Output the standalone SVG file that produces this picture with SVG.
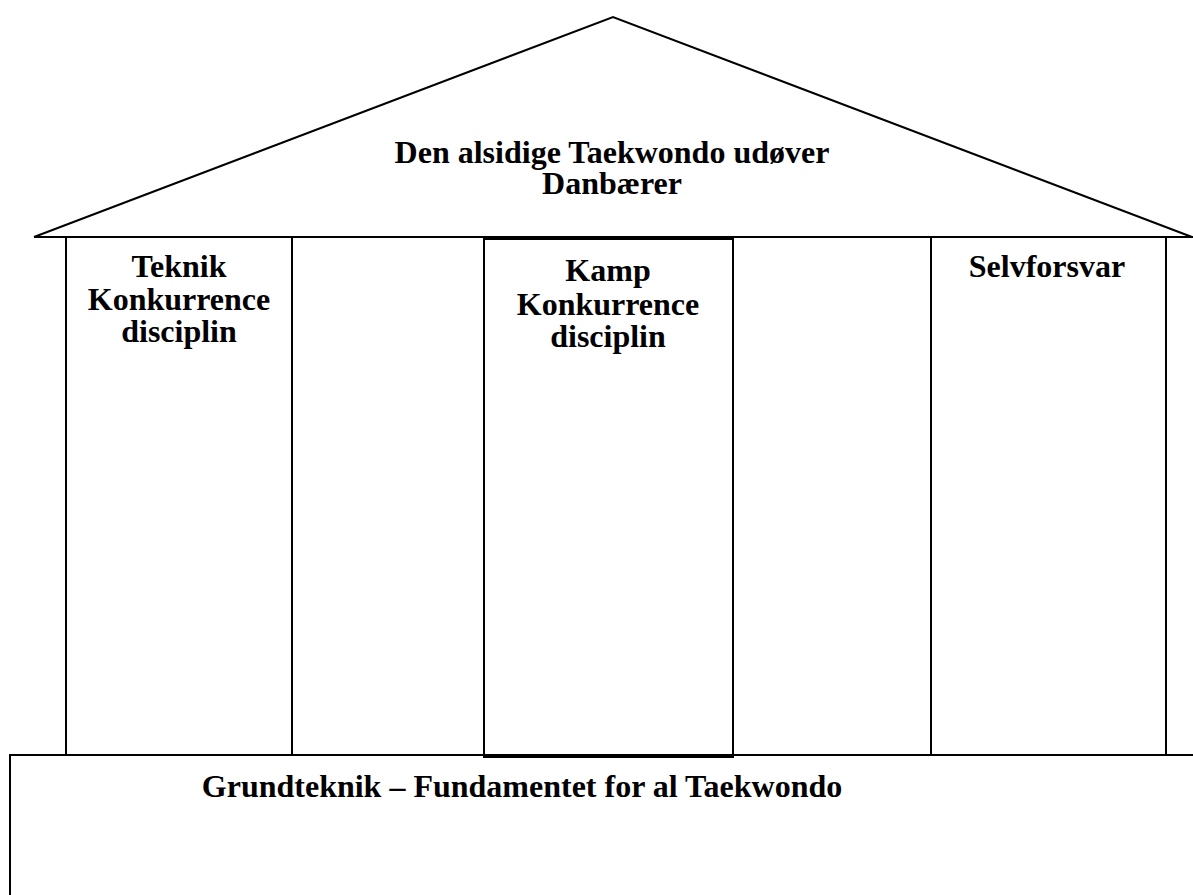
<svg xmlns="http://www.w3.org/2000/svg" width="1193" height="895" viewBox="0 0 1193 895">
<style>
.ln{fill:none;stroke:#000;stroke-width:2}
.bx{fill:#fff;stroke:#000;stroke-width:2}
.t{font-family:"Liberation Serif","Times New Roman",serif;font-weight:bold;font-size:32px;fill:#000;text-anchor:middle}
</style>
<rect width="1193" height="895" fill="#fff"/>
<g id="roof">
<polyline class="ln" points="34,237 613,17 1192,237"/>
<line class="ln" x1="34" y1="237" x2="1193" y2="237"/>
<text class="t" x="612" y="163">Den alsidige Taekwondo udøver</text>
<text class="t" x="612" y="194">Danbærer</text>
</g>
<g id="pillar-teknik">
<line class="ln" x1="66" y1="237" x2="66" y2="755"/>
<line class="ln" x1="292" y1="237" x2="292" y2="755"/>
<text class="t" x="179" y="277">Teknik</text>
<text class="t" x="179" y="310">Konkurrence</text>
<text class="t" x="179" y="342">disciplin</text>
</g>
<g id="pillar-kamp">
<rect class="bx" x="484" y="239" width="249" height="518"/>
<text class="t" x="608" y="281">Kamp</text>
<text class="t" x="608" y="315">Konkurrence</text>
<text class="t" x="608" y="347">disciplin</text>
</g>
<g id="pillar-selvforsvar">
<line class="ln" x1="931" y1="237" x2="931" y2="755"/>
<line class="ln" x1="1166" y1="237" x2="1166" y2="755"/>
<text class="t" x="1047" y="277">Selvforsvar</text>
</g>
<g id="base">
<polyline class="ln" points="10,900 10,755 1193,755"/>
<text class="t" x="522" y="797">Grundteknik – Fundamentet for al Taekwondo</text>
</g>
<g id="connectors"></g>
</svg>
